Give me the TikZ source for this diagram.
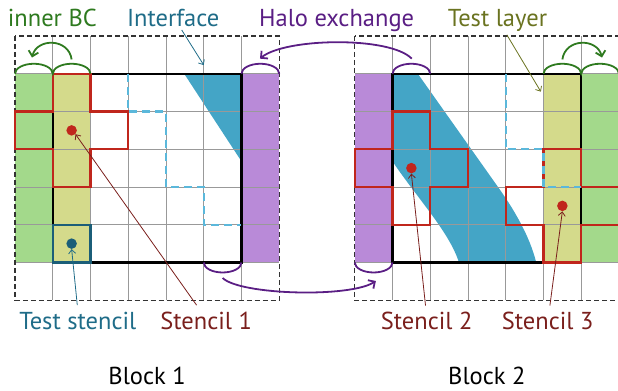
\documentclass[tikz,border=0pt]{standalone}
\usepackage{fontspec}
\setmainfont{PT Sans}
\usetikzlibrary{arrows.meta}

\definecolor{bcgreen}{HTML}{A3D98B}
\definecolor{layeryellow}{HTML}{D4DA8B}
\definecolor{halopurple}{HTML}{B98AD8}
\definecolor{ifaceblue}{HTML}{44A5C6}
\definecolor{stencilred}{HTML}{C0261C}
\definecolor{testteal}{HTML}{1B5E78}
\definecolor{dashblue}{HTML}{5BB8DB}
\definecolor{txtgreen}{HTML}{2E7A1F}
\definecolor{txtteal}{HTML}{1F6C88}
\definecolor{txtpurple}{HTML}{5A1E84}
\definecolor{txtolive}{HTML}{6A7320}
\definecolor{txtred}{HTML}{7A1F1C}

% plus-shaped stencil around cell (#1,#2)
\newcommand{\plusstencil}[2]{%
  (#1,#2-1) -- ++(1,0) -- ++(0,1) -- ++(1,0) -- ++(0,1) -- ++(-1,0)
  -- ++(0,1) -- ++(-1,0) -- ++(0,-1) -- ++(-1,0) -- ++(0,-1) -- ++(1,0) -- cycle}
% the interface band, in cells of block 1
\newcommand{\bandpath}{%
  (4.416,0.9) -- (6.60,0.9) -- (8.795,4)
  .. controls (9.325,4.742) and (9.695,5.457) .. (9.83,6.1)
  -- (7.79,6.1) .. controls (7.576,5.272) and (6.726,4.389) .. (6.005,3.33) -- cycle}

\begin{document}
\begin{tikzpicture}[
  x=37.75pt,
  y=-37.75pt,
  lbl/.style={font=\fontsize{24.5}{28}\selectfont, anchor=base},
  cellgrid/.style={gray!80, line width=0.9pt},
  outerbox/.style={black!80, line width=1.3pt, dash pattern=on 5pt off 3pt},
  innerbox/.style={line width=2.4pt},
  stencil/.style={stencilred, line width=2.2pt, line join=miter},
  discrete/.style={dashblue, line width=2.4pt, dash pattern=on 8pt off 5pt},
  bcarc/.style={txtgreen, line width=1.8pt},
  haloarc/.style={txtpurple, line width=1.8pt},
  lead/.style={line width=0.8pt, -{Straight Barb[length=4pt,width=7pt]}},
  swaparrow/.style={line width=1.8pt, -{Straight Barb[length=5pt,width=10pt]}},
  dot/.style={circle, inner sep=0pt, minimum size=10.5pt}
]
  \useasboundingbox (-0.3974,-0.9536) rectangle (15.974,9.404);

  % ---- block 1 ----
  \fill[bcgreen] (0,1) rectangle (1,6);
  \fill[layeryellow] (1,1) rectangle (2,6);
  \fill[halopurple] (6,1) rectangle (7,6);
  \begin{scope}
    \clip (1,1) rectangle (6,6);
    \fill[ifaceblue] \bandpath;
  \end{scope}
  \foreach \k in {1,...,6} {
    \draw[cellgrid] (\k,0) -- (\k,7);
    \draw[cellgrid] (0,\k) -- (7,\k);
  }
  \draw[outerbox] (0,0) rectangle (7,7);
  \draw[innerbox] (1,1) rectangle (6,6);
  \draw[stencil] \plusstencil{1}{2};
  \draw[testteal, line width=2.2pt] (1,5) rectangle (2,6);
  \draw[discrete] (3,1) -- (3,2) -- (4,2) -- (4,4) -- (5,4) -- (5,5) -- (6,5);
  \node[dot, fill=stencilred] (s1dot) at (1.5,2.5) {};
  \node[dot, fill=testteal] (tsdot) at (1.5,5.5) {};

  % ---- block 2 ----
  \begin{scope}[xshift=9*37.75pt]
    \fill[halopurple] (0,1) rectangle (1,6);
    \fill[layeryellow] (5,1) rectangle (6,6);
    \fill[bcgreen] (6,1) rectangle (7,6);
    \begin{scope}
      \clip (1,1) rectangle (6,6);
      \fill[ifaceblue, xshift=-5*37.75pt] \bandpath;
    \end{scope}
    \foreach \k in {1,...,6} {
      \draw[cellgrid] (\k,0) -- (\k,7);
      \draw[cellgrid] (0,\k) -- (7,\k);
    }
    \draw[outerbox] (0,0) rectangle (7,7);
    \draw[innerbox] (1,1) rectangle (6,6);
    \draw[stencil] \plusstencil{1}{3};
    \draw[stencil] \plusstencil{5}{4};
    \draw[discrete] (4,1) -- (4,3) -- (5,3) -- (5,4) -- (6,4);
    \node[dot, fill=stencilred] (s2dot) at (1.5,3.5) {};
    \node[dot, fill=stencilred] (s3dot) at (5.5,4.5) {};
  \end{scope}

  % halo and boundary cells
  \draw[bcarc] (0,1) arc[start angle=180, end angle=0, x radius=18.875pt, y radius=10pt]
               arc[start angle=180, end angle=0, x radius=18.875pt, y radius=10pt];
  \draw[bcarc] (14,1) arc[start angle=180, end angle=0, x radius=18.875pt, y radius=10pt]
               arc[start angle=180, end angle=0, x radius=18.875pt, y radius=10pt];
  \draw[haloarc] (6,1) arc[start angle=180, end angle=0, x radius=18.875pt, y radius=10pt];
  \draw[haloarc] (10,1) arc[start angle=180, end angle=0, x radius=18.875pt, y radius=10pt];
  \draw[haloarc] (5,6) arc[start angle=180, end angle=360, x radius=18.875pt, y radius=10pt];
  \draw[haloarc] (9,6) arc[start angle=180, end angle=360, x radius=18.875pt, y radius=10pt];

  \coordinate (bc1from) at (1.5,0.62);
  \coordinate (bc1to) at (0.45,0.57);
  \coordinate (bc2from) at (14.5,0.62);
  \coordinate (bc2to) at (15.55,0.57);
  \coordinate (topfrom) at (10.51,0.6);
  \coordinate (topto) at (6.49,0.6);
  \coordinate (botfrom) at (5.5,6.41);
  \coordinate (botto) at (9.56,6.49);

  \draw[swaparrow, txtgreen] (bc1from) .. controls (1.42,0.05) and (0.58,0.05) .. (bc1to);
  \draw[swaparrow, txtgreen] (bc2from) .. controls (14.58,0.05) and (15.42,0.05) .. (bc2to);
  \draw[swaparrow, txtpurple] (topfrom) .. controls (9.93,0) and (7.15,0.05) .. (topto);
  \draw[swaparrow, txtpurple] (botfrom) .. controls (5.96,6.86) and (8.87,6.94) .. (botto);

  % labels
  \node[lbl, txtgreen] (innerbc) at (0.99,-0.246) {inner BC};
  \node[lbl, txtteal] (iface) at (4.19,-0.246) {Interface};
  \node[lbl, txtpurple] (halo) at (8.52,-0.246) {Halo exchange};
  \node[lbl, txtolive] (testlayer) at (12.78,-0.246) {Test layer};
  \node[lbl, txtteal] (teststencil) at (1.664,7.762) {Test stencil};
  \node[lbl, txtred] (stencilA) at (5.064,7.762) {Stencil 1};
  \node[lbl, txtred] (stencilB) at (10.906,7.762) {Stencil 2};
  \node[lbl, txtred] (stencilC) at (14.11,7.762) {Stencil 3};
  \node[lbl] (blockA) at (3.5,9.245) {Block 1};
  \node[lbl] (blockB) at (12.5,9.245) {Block 2};

  % leader lines
  \coordinate (ifacefrom) at (4.416,-0.16);
  \coordinate (ifaceend) at (5.0,0.77);
  \coordinate (layerfrom) at (13.03,-0.03);
  \coordinate (layerend) at (13.93,1.475);
  \coordinate (tsfrom) at (1.65,7.13);
  \coordinate (s1from) at (4.81,7.13);
  \coordinate (s2from) at (10.875,7.14);
  \coordinate (s3from) at (14.17,7.14);
  \draw[lead, txtteal] (ifacefrom) -- (ifaceend);
  \draw[lead, txtolive] (layerfrom) -- (layerend);
  \draw[lead, txtteal] (tsfrom) -- (tsdot.south);
  \draw[lead, txtred] (s1from) -- (s1dot.south east);
  \draw[lead, txtred] (s2from) -- (s2dot.south);
  \draw[lead, txtred] (s3from) -- (s3dot.south);
\end{tikzpicture}
\end{document}
